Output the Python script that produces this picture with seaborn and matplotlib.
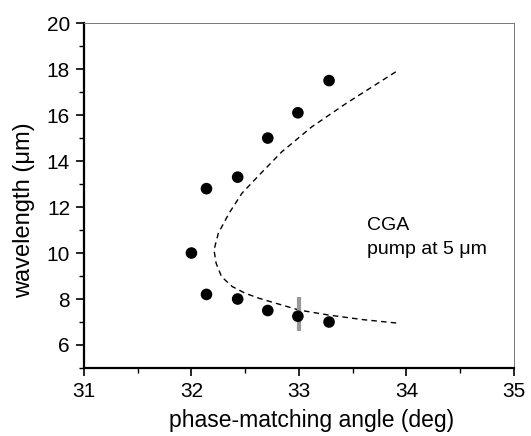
import matplotlib
matplotlib.use("Agg")
import matplotlib.pyplot as plt
import seaborn as sns
import pandas as pd
from matplotlib.ticker import MultipleLocator

sns.set_theme(style="white")
plt.rcParams['font.family'] = ['Liberation Sans', 'DejaVu Sans']
plt.rcParams['text.color'] = 'black'
plt.rcParams['axes.labelcolor'] = 'black'
plt.rcParams['xtick.color'] = 'black'
plt.rcParams['ytick.color'] = 'black'

# measured points
meas_angle = [32.00, 32.14, 32.43, 32.71, 32.99, 33.28, 32.14, 32.43, 32.71, 32.99, 33.28]
meas_wl = [10.0, 12.8, 13.3, 15.0, 16.1, 17.5, 8.2, 8.0, 7.5, 7.25, 7.0]

# theoretical curve
curve_angle = [33.90, 33.44, 33.12, 32.84, 32.63, 32.47, 32.35, 32.25, 32.21, 32.23,
               32.28, 32.38, 32.50, 32.63, 33.00, 33.28, 33.60, 33.92]
curve_wl = [17.88, 16.51, 15.49, 14.40, 13.39, 12.60, 11.73, 10.86, 10.13, 9.55,
            8.97, 8.54, 8.25, 8.03, 7.52, 7.30, 7.10, 6.95]

# error bar
err_angle = [33.0]
err_low = [6.6]
err_high = [8.1]

meas = pd.DataFrame({"angle": meas_angle, "wl": meas_wl})
curve = pd.DataFrame({"angle": curve_angle, "wl": curve_wl})

fig = plt.figure(figsize=(5.31, 4.36), dpi=100)
ax = fig.add_axes([0.158, 0.156, 0.81, 0.791])

ax.vlines(err_angle, err_low, err_high, color="#999999", lw=3, zorder=2)
sns.lineplot(data=curve, x="angle", y="wl", sort=False, estimator=None, ax=ax,
             color="black", lw=1.0, linestyle=(0, (4, 3)), zorder=1)
sns.scatterplot(data=meas, x="angle", y="wl", ax=ax, color="black", s=70,
                edgecolor="none", zorder=3)

ax.text(33.63, 11.0, "CGA", fontsize=14, va="baseline", ha="left")
ax.text(33.63, 9.96, "pump at 5 \u03bcm", fontsize=14, va="baseline", ha="left")

ax.set_xlim(31, 35)
ax.set_ylim(5, 20)
ax.set_xticks([31, 32, 33, 34, 35])
ax.set_yticks([6, 8, 10, 12, 14, 16, 18, 20])
ax.xaxis.set_minor_locator(MultipleLocator(0.5))
ax.yaxis.set_minor_locator(MultipleLocator(1))
ax.tick_params(which="major", direction="out", length=6, width=1.2, labelsize=15,
               bottom=True, left=True, top=False, right=False, color="black", pad=4)
ax.tick_params(which="minor", direction="out", length=3.5, width=1.0,
               bottom=True, left=True, top=False, right=False, color="black")
ax.set_xlabel("phase-matching angle (deg)", fontsize=16.5, va="center")
ax.set_ylabel("wavelength (\u03bcm)", fontsize=17, va="center")
ax.xaxis.set_label_coords(0.53, -0.151)
ax.yaxis.set_label_coords(-0.14, 0.458)

for s in ["left", "bottom"]:
    ax.spines[s].set_color("black")
    ax.spines[s].set_linewidth(1.6)
for s in ["top", "right"]:
    ax.spines[s].set_color("#777777")
    ax.spines[s].set_linewidth(0.7)

fig.savefig("out.png", dpi=100)
